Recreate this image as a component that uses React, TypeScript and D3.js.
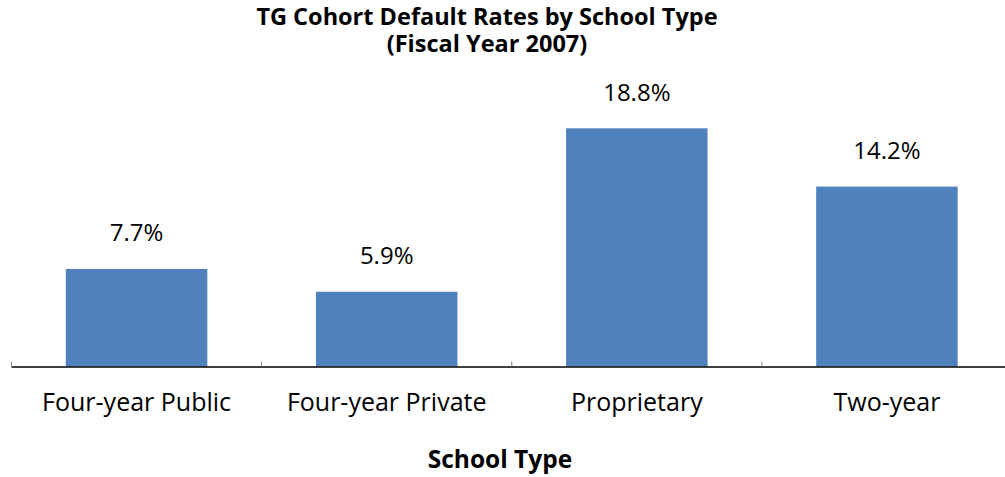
import React from "react";
import * as d3 from "d3";

const categories = ["Four-year Public", "Four-year Private", "Proprietary", "Two-year"];
const values = [7.7, 5.9, 18.8, 14.2];
const valueLabels = ["7.7%", "5.9%", "18.8%", "14.2%"];
const titleLines = ["TG Cohort Default Rates by School Type", "(Fiscal Year 2007)"];
const xAxisTitle = "School Type";

const W = 1005;
const H = 477;
const FONT = "'Open Sans', 'Noto Sans', sans-serif";

export default function App() {
  const left = 11.5;
  const right = 1012;
  const baseline = 366.5;
  const x = d3.scaleBand<string>().domain(categories).range([left, right]);
  const y = d3.scaleLinear().domain([0, 20]).range([baseline, baseline - 253.4]);
  const step = x.step();
  const bw = 141.5;
  return (
    <svg width={W} height={H} style={{ position: "absolute", left: 0, top: 0, background: "#fff" }} fontFamily={FONT}>
      <text x={487} y={25} textAnchor="middle" fontWeight="bold" fontSize={23.5} fill="#000">{titleLines[0]}</text>
      <text x={487} y={52} textAnchor="middle" fontWeight="bold" fontSize={23.5} fill="#000">{titleLines[1]}</text>
      {categories.map((c, i) => {
        const cx = (x(c) as number) + step / 2;
        return (
          <g key={c}>
            <rect x={cx - bw / 2} y={y(values[i])} width={bw} height={baseline - y(values[i])} fill="#4f81bd" />
            <text x={cx} y={y(values[i]) - 27.5} textAnchor="middle" fontSize={24} fill="#000">{valueLabels[i]}</text>
            <text x={cx} y={411} textAnchor="middle" fontSize={25} fill="#000">{c}</text>
          </g>
        );
      })}
      <line x1={left} x2={W} y1={baseline + 0.5} y2={baseline + 0.5} stroke="#000" strokeWidth={1.3} />
      {categories.map((c) => (
        <line key={c} x1={x(c) as number} x2={x(c) as number} y1={baseline - 5} y2={baseline} stroke="#888" strokeWidth={1} />
      ))}
      <text x={500} y={468} textAnchor="middle" fontWeight="bold" fontSize={24.5} fill="#000">{xAxisTitle}</text>
    </svg>
  );
}
